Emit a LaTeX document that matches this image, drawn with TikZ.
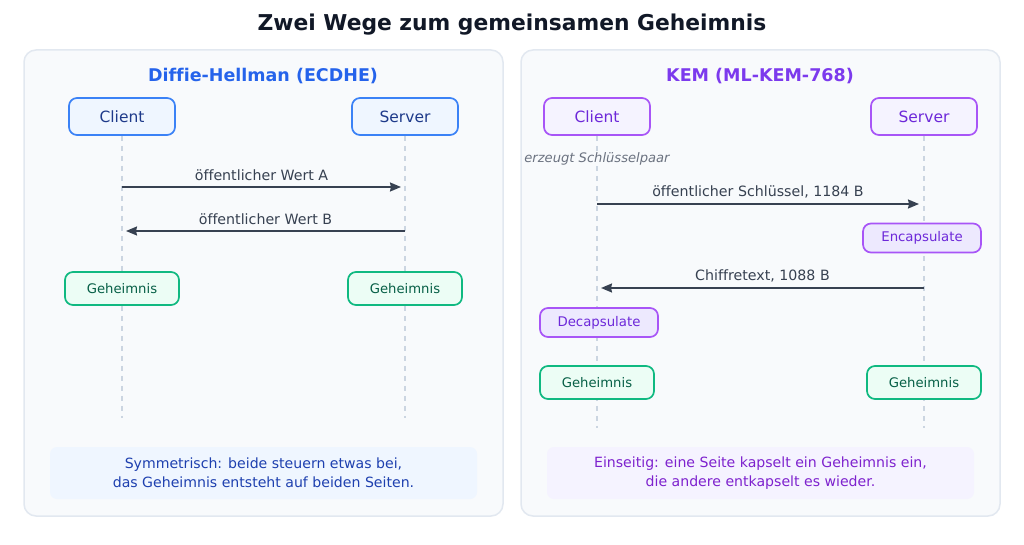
\documentclass[tikz,border=0pt]{standalone}
\usepackage{fontspec}
\setmainfont{DejaVu Sans}[Ligatures=NoCommon]
\usetikzlibrary{arrows.meta}
\definecolor{panelfill}{HTML}{F8FAFC}
\definecolor{panelline}{HTML}{E2E8F0}
\definecolor{titlecol}{HTML}{111827}
\definecolor{blue}{HTML}{2563EB}
\definecolor{bluefill}{HTML}{EFF6FF}
\definecolor{bluestroke}{HTML}{3B82F6}
\definecolor{bluetext}{HTML}{1E3A8A}
\definecolor{notebluetext}{HTML}{1E40AF}
\definecolor{purple}{HTML}{7C3AED}
\definecolor{purplefill}{HTML}{F5F3FF}
\definecolor{purplestroke}{HTML}{A855F7}
\definecolor{purpletext}{HTML}{6D28D9}
\definecolor{opfill}{HTML}{EDE9FE}
\definecolor{notepurpletext}{HTML}{7E22CE}
\definecolor{greenfill}{HTML}{ECFDF5}
\definecolor{greenstroke}{HTML}{10B981}
\definecolor{greentext}{HTML}{065F46}
\definecolor{lifecol}{HTML}{CBD5E1}
\definecolor{msgcol}{HTML}{374151}
\definecolor{graytext}{HTML}{6B7280}
\tikzset{
  panel/.style={draw=panelline, line width=1.5pt, fill=panelfill, rounded corners=12pt},
  actorblue/.style={draw=bluestroke, fill=bluefill, line width=1.7pt, rounded corners=8pt, minimum width=106pt, minimum height=37pt, text=bluetext, font=\fontsize{15.5}{18}\selectfont},
  actorpurple/.style={draw=purplestroke, fill=purplefill, line width=1.7pt, rounded corners=8pt, minimum width=106pt, minimum height=37pt, text=purpletext, font=\fontsize{15.5}{18}\selectfont},
  secret/.style={draw=greenstroke, fill=greenfill, line width=1.7pt, rounded corners=8pt, minimum width=114pt, minimum height=33pt, text=greentext, font=\fontsize{13.2}{15}\selectfont},
  opbox/.style={draw=purplestroke, fill=opfill, line width=1.7pt, rounded corners=8pt, minimum width=118pt, minimum height=29pt, text=purpletext, font=\fontsize{13.3}{15}\selectfont},
  lifeline/.style={draw=lifecol, line width=1.6pt, dash pattern=on 5pt off 5pt},
  msg/.style={draw=msgcol, line width=1.7pt, -{Stealth[length=11pt,width=9pt,inset=1pt]}},
  msglabel/.style={text=msgcol, font=\fontsize{14.2}{16}\selectfont},
  note/.style={fill=#1, rounded corners=7pt, minimum width=427pt, minimum height=52pt, align=center, font=\fontsize{14.1}{19}\selectfont},
}
\begin{document}
\begin{tikzpicture}[x=1pt,y=-1pt]
\useasboundingbox (0,0) rectangle (1024,545);
\fill[white] (0,0) rectangle (1024,545);
\node[font=\bfseries\fontsize{21.8}{26}\selectfont, text=titlecol] (title) at (512,24.5) {Zwei Wege zum gemeinsamen Geheimnis};
% panels
\draw[panel] (24,50) rectangle (503,516);
\draw[panel] (521,50) rectangle (1000,516);
% ===== left: Diffie-Hellman =====
\node[font=\bfseries\fontsize{17.5}{20}\selectfont, text=blue] (ltitle) at (263,76.5) {Diffie-Hellman (ECDHE)};
\node[actorblue] (lc) at (122,116.5) {Client};
\node[actorblue] (ls) at (405,116.5) {Server};
\coordinate (lcend) at (122,418);
\coordinate (lsend) at (405,418);
\draw[lifeline] (lc.south) -- (lcend);
\draw[lifeline] (ls.south) -- (lsend);
\coordinate (la1) at (122,187);
\coordinate (la2) at (401,187);
\draw[msg] (la1) -- node[msglabel, above=2pt] (lma) {öffentlicher Wert A} (la2);
\coordinate (lb1) at (405,231);
\coordinate (lb2) at (126,231);
\draw[msg] (lb1) -- node[msglabel, above=2pt] (lmb) {öffentlicher Wert B} (lb2);
\node[secret] (lgc) at (122,288.5) {Geheimnis};
\node[secret] (lgs) at (405,288.5) {Geheimnis};
\node[note=bluefill, text=notebluetext] (lnote) at (263.5,473) {Symmetrisch: beide steuern etwas bei,\\das Geheimnis entsteht auf beiden Seiten.};
% ===== right: KEM =====
\node[font=\bfseries\fontsize{17.5}{20}\selectfont, text=purple] (rtitle) at (760,76.5) {KEM (ML-KEM-768)};
\node[actorpurple] (rc) at (597,116.5) {Client};
\node[actorpurple] (rs) at (924,116.5) {Server};
\coordinate (rcend) at (597,428);
\coordinate (rsend) at (924,428);
\draw[lifeline] (rc.south) -- (rcend);
\draw[lifeline] (rs.south) -- (rsend);
\node[font=\itshape\fontsize{13.1}{15}\selectfont, text=graytext, fill=panelfill, inner sep=1pt] (gen) at (597,158.5) {erzeugt Schlüsselpaar};
\coordinate (ra1) at (597,204);
\coordinate (ra2) at (919,204);
\draw[msg] (ra1) -- node[msglabel, above=2pt] (rma) {öffentlicher Schlüssel, 1184 B} (ra2);
\node[opbox] (enc) at (922,238) {Encapsulate};
\coordinate (rb1) at (924,288);
\coordinate (rb2) at (601,288);
\draw[msg] (rb1) -- node[msglabel, above=2pt] (rmb) {Chiffretext, 1088 B} (rb2);
\node[opbox] (dec) at (599,322.5) {Decapsulate};
\node[secret] (rgc) at (597,382.5) {Geheimnis};
\node[secret] (rgs) at (924,382.5) {Geheimnis};
\node[note=purplefill, text=notepurpletext] (rnote) at (760.5,473) {Einseitig: eine Seite kapselt ein Geheimnis ein,\\die andere entkapselt es wieder.};
\end{tikzpicture}
\end{document}
